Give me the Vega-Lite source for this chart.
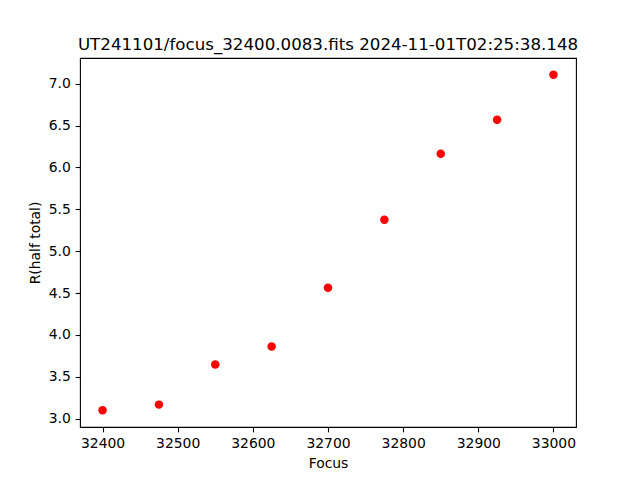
{
  "$schema": "https://vega.github.io/schema/vega-lite/v6.json",
  "width": 496,
  "height": 369,
  "autosize": {"type": "none"},
  "padding": {"left": 80, "top": 58, "right": 64, "bottom": 53},
  "background": "white",
  "title": {
    "text": "UT241101/focus_32400.0083.fits 2024-11-01T02:25:38.148",
    "font": "DejaVu Sans",
    "fontSize": 16.67,
    "fontWeight": "normal",
    "color": "black",
    "anchor": "middle",
    "offset": 4
  },
  "config": {
    "view": {"stroke": "black", "strokeWidth": 1.1},
    "axis": {
      "labelFont": "DejaVu Sans",
      "labelFontSize": 13.9,
      "labelColor": "black",
      "titleFont": "DejaVu Sans",
      "titleFontSize": 13.9,
      "titleFontWeight": "normal",
      "titleColor": "black",
      "tickColor": "black",
      "tickSize": 4.86,
      "tickWidth": 1.1,
      "domain": false,
      "grid": false,
      "labelPadding": 4.86,
      "titlePadding": 6
    }
  },
  "data": {
    "values": [
      {"focus": 32400, "r": 3.10},
      {"focus": 32475, "r": 3.167},
      {"focus": 32550, "r": 3.645},
      {"focus": 32625, "r": 3.86},
      {"focus": 32700, "r": 4.564},
      {"focus": 32775, "r": 5.376},
      {"focus": 32850, "r": 6.164},
      {"focus": 32925, "r": 6.57},
      {"focus": 33000, "r": 7.107}
    ]
  },
  "mark": {"type": "circle", "color": "red", "opacity": 1, "size": 72},
  "encoding": {
    "x": {
      "field": "focus",
      "type": "quantitative",
      "title": "Focus",
      "scale": {"domain": [32370, 33030], "nice": false, "zero": false},
      "axis": {"values": [32400, 32500, 32600, 32700, 32800, 32900, 33000], "format": "d", "labelFlush": false}
    },
    "y": {
      "field": "r",
      "type": "quantitative",
      "title": "R(half total)",
      "scale": {"domain": [2.8997, 7.307], "nice": false, "zero": false},
      "axis": {"values": [3.0, 3.5, 4.0, 4.5, 5.0, 5.5, 6.0, 6.5, 7.0], "format": ".1f", "labelFlush": false}
    }
  }
}
